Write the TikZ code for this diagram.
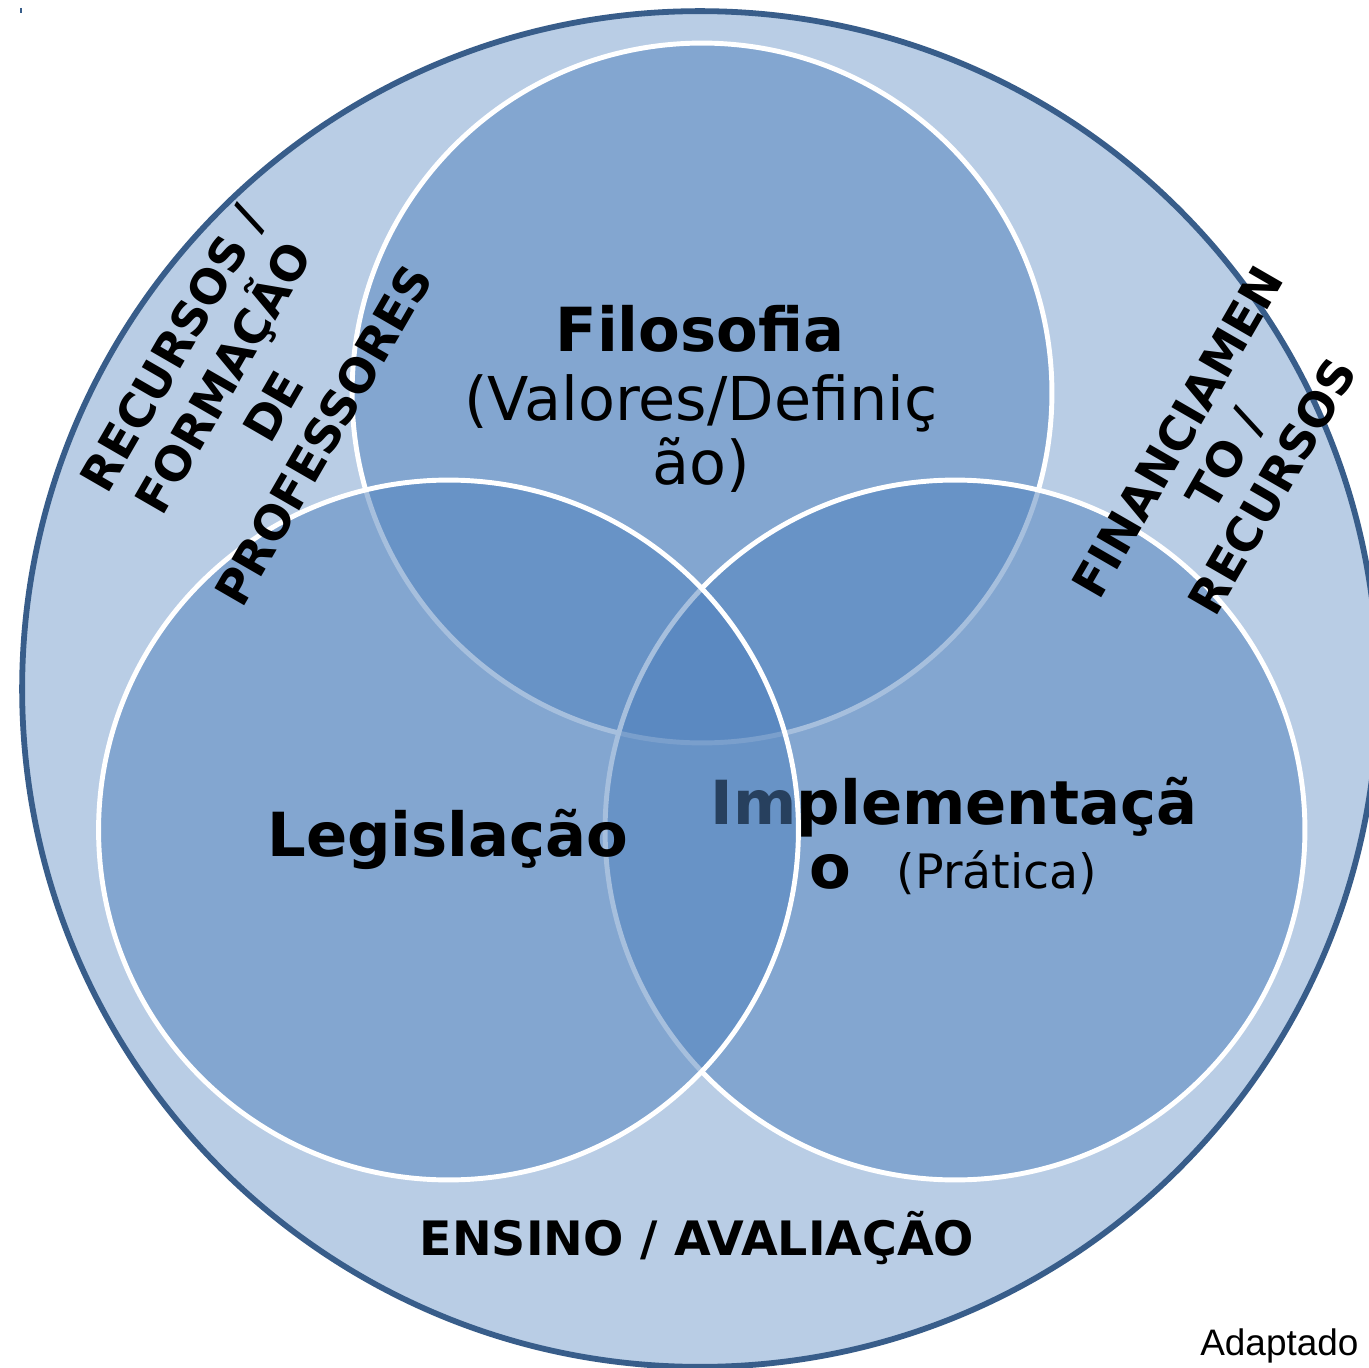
\documentclass[tikz,border=0pt]{standalone}
\usepackage{fontspec}
\setmainfont{DejaVu Sans}
\newfontfamily\arialfont{Liberation Sans}
\definecolor{outerfill}{HTML}{B9CDE5}
\definecolor{outerline}{HTML}{385D8A}
\definecolor{vennblue}{HTML}{4F81BD}
\tikzset{
  outercirc/.style={circle, inner sep=0pt, minimum size=27.12cm, fill=outerfill, draw=outerline, line width=3.3pt},
  venn/.style={circle, inner sep=0pt, minimum size=14cm, fill=vennblue, fill opacity=0.5, draw=white, line width=2.8pt},
  bigbold/.style={anchor=base, font=\fontsize{34.6pt}{40pt}\selectfont\bfseries},
  bigreg/.style={anchor=base, font=\fontsize{34.4pt}{40pt}\selectfont},
  smallreg/.style={anchor=base, font=\fontsize{27pt}{32pt}\selectfont},
  sidelabel/.style={align=center, rotate=60, inner sep=0pt, font=\fontsize{26.8pt}{33pt}\selectfont\bfseries},
}
\begin{document}
\begin{tikzpicture}[x=0.02cm, y=-0.02cm]
\useasboundingbox (0,0) rectangle (1369,1368);
\fill[white] (0,0) rectangle (1369,1368);
\clip (0,0) rectangle (1369,1368);
% outer circle
\node[outercirc] (outer) at (700,689) {};
\draw[outerline, line width=1pt] (21,8) -- (21,13);
% top circle
\node[venn] (top) at (702,393) {};
\node[bigbold] (filo) at (700,352) {Filosofia};
\node[bigreg] (valores) at (701,420) {(Valores/Definiç};
\node[bigreg] (valores2) at (701,484) {ão)};
% right circle
\node[venn] (right) at (955,830) {};
\node[bigbold] (impl) at (954,824) {Implementaçã};
\node[bigbold] (impl2) at (830,888) {o};
\node[smallreg] (pratica) at (997,888) {(Prática)};
% left circle
\node[venn] (left) at (448.5,830) {};
\node[bigbold] (legis) at (448,856) {Legislação};
% outer labels
\node[anchor=base, font=\fontsize{27pt}{32pt}\selectfont\bfseries] (ensino) at (697,1255) {ENSINO / AVALIAÇÃO};
\node[sidelabel] (recursos) at (248,392) {RECURSOS /\\FORMAÇÃO\\DE\\PROFESSORES};
\node[sidelabel, font=\fontsize{26.8pt}{31pt}\selectfont\bfseries] (financ) at (1225,459) {FINANCIAMEN\\TO /\\RECURSOS};
\node[anchor=base west, inner sep=0pt, font=\arialfont\fontsize{21pt}{25pt}\selectfont] (adapt) at (1200,1355) {Adaptado};
\end{tikzpicture}
\end{document}
